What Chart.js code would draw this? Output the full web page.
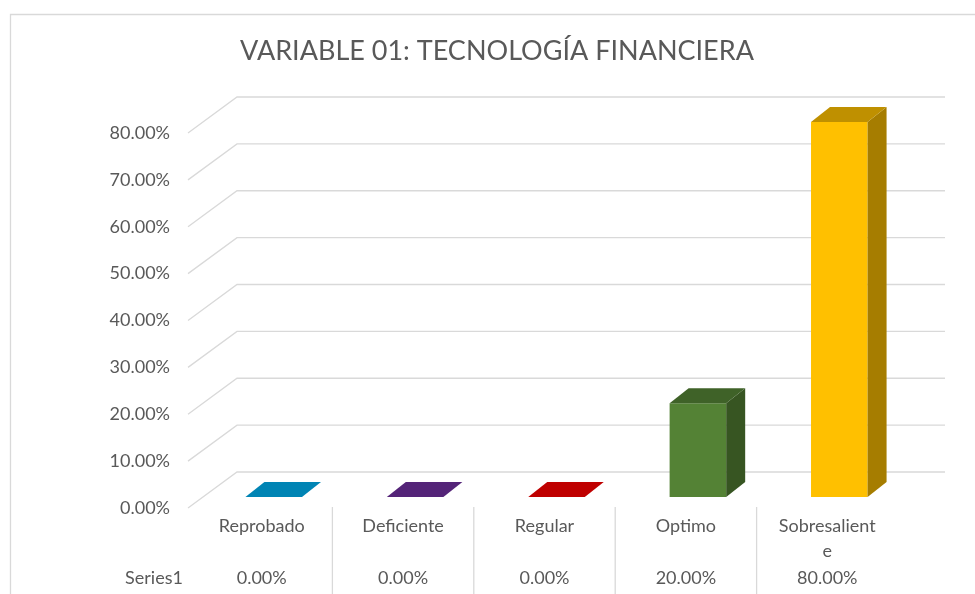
<!DOCTYPE html>
<html>
<head>
<meta charset="utf-8">
<script src="https://cdn.jsdelivr.net/npm/chart.js@4"></script>
<style>
  body { margin: 0; background: #fff; }
</style>
</head>
<body>
<canvas id="myChart" width="975" height="594"></canvas>
<script>
// chart data
const categories = ['Reprobado', 'Deficiente', 'Regular', 'Optimo', 'Sobresaliente'];
const seriesName = 'Series1';
const seriesValues = [0, 0, 0, 20, 80];
const chartTitle = 'VARIABLE 01: TECNOLOGÍA FINANCIERA';

// one colour per column, the sides are shaded from it
const barColors = ['#00B0F0', '#7030A0', '#FF0000', '#548235', '#FFC000'];

const FONT = 'Lato';
const TEXT = '#595959';
const GRID = '#d9d9d9';
const DX = 19, DY = 15;        // depth of the columns
const TABLE_SHIFT = -12;       // data table sits a bit left of the columns
const WRAP_WIDTH = 105;

function shade(hex, f) {
    const n = parseInt(hex.slice(1), 16);
    const r = Math.round(((n >> 16) & 255) * f);
    const g = Math.round(((n >> 8) & 255) * f);
    const b = Math.round((n & 255) * f);
    return `rgb(${r},${g},${b})`;
}

const pct = v => Number(v).toFixed(2) + '%';

// wrap a label by characters, like the excel data table does
const measureCtx = document.createElement('canvas').getContext('2d');
function wrapLabel(text) {
    measureCtx.font = `18px ${FONT}`;
    const lines = [];
    let line = '';
    for (const ch of text) {
        if (line && measureCtx.measureText(line + ch).width > WRAP_WIDTH) {
            lines.push(line);
            line = ch;
        } else {
            line += ch;
        }
    }
    lines.push(line);
    return lines;
}

const threeD = {
    id: 'threeD',
    beforeDraw(chart) {
        const { ctx } = chart;
        ctx.save();
        ctx.strokeStyle = GRID;
        ctx.lineWidth = 1.3;
        ctx.beginPath();
        ctx.moveTo(10.5, 700);
        ctx.lineTo(10.5, 14.5);
        ctx.lineTo(1200, 14.5);
        ctx.stroke();
        // title, centred on the whole chart box
        ctx.font = `27px ${FONT}`;
        ctx.fillStyle = TEXT;
        ctx.textAlign = 'center';
        ctx.textBaseline = 'middle';
        ctx.fillText(chartTitle, 497, 51);
        ctx.restore();
    },
    beforeDatasetsDraw(chart) {
        const { ctx, chartArea, scales: { y } } = chart;
        const wallLeft = chartArea.left + 34;
        const wallRight = chartArea.right + 35;
        ctx.save();
        ctx.strokeStyle = GRID;
        ctx.lineWidth = 1.3;
        y.ticks.forEach(t => {
            const py = y.getPixelForValue(t.value);
            ctx.beginPath();
            ctx.moveTo(chartArea.left - 15, py + 11);
            ctx.lineTo(wallLeft, py - 25);
            ctx.lineTo(wallRight, py - 25);
            ctx.stroke();
        });
        ctx.restore();
    },
    afterDatasetsDraw(chart) {
        const { ctx } = chart;
        const meta = chart.getDatasetMeta(0);
        ctx.save();
        meta.data.forEach((bar, i) => {
            const { x, y, base, width } = bar.getProps(['x', 'y', 'base', 'width'], true);
            const l = x - width / 2, r = x + width / 2;
            const c = barColors[i];
            if (base - y > 0.5) {
                ctx.fillStyle = shade(c, 0.65);
                ctx.beginPath();
                ctx.moveTo(r, y);
                ctx.lineTo(r + DX, y - DY);
                ctx.lineTo(r + DX, base - DY);
                ctx.lineTo(r, base);
                ctx.closePath();
                ctx.fill();
            }
            ctx.fillStyle = shade(c, 0.75);
            ctx.beginPath();
            ctx.moveTo(l, y);
            ctx.lineTo(l + DX, y - DY);
            ctx.lineTo(r + DX, y - DY);
            ctx.lineTo(r, y);
            ctx.closePath();
            ctx.fill();
        });
        ctx.restore();
    },
    afterDraw(chart) {
        const { ctx, scales: { x } } = chart;
        const rowY = 578;
        ctx.save();
        ctx.font = `18px ${FONT}`;
        ctx.fillStyle = TEXT;
        ctx.textAlign = 'center';
        ctx.textBaseline = 'middle';
        ctx.fillText(seriesName, 154, rowY);
        seriesValues.forEach((v, i) => {
            ctx.fillText(pct(v), x.getPixelForValue(i) + TABLE_SHIFT, rowY);
        });
        ctx.strokeStyle = GRID;
        ctx.lineWidth = 1.3;
        for (let i = 0; i < categories.length - 1; i++) {
            const sx = (x.getPixelForValue(i) + x.getPixelForValue(i + 1)) / 2 + TABLE_SHIFT;
            ctx.beginPath();
            ctx.moveTo(sx, 507);
            ctx.lineTo(sx, 600);
            ctx.stroke();
        }
        ctx.restore();
    }
};

const ctx = document.getElementById('myChart').getContext('2d');
const myChart = new Chart(ctx, {
    type: 'bar',
    data: {
        labels: categories,
        datasets: [{
            label: seriesName,
            data: seriesValues,
            backgroundColor: barColors,
            borderWidth: 0,
            barPercentage: 0.4,
            categoryPercentage: 1.0
        }]
    },
    options: {
        responsive: false,
        animation: false,
        layout: { padding: { left: 0, right: 65, top: 122, bottom: 0 } },
        plugins: {
            legend: { display: false },
            tooltip: { enabled: false },
            title: { display: false }
        },
        scales: {
            x: {
                grid: { display: false, drawTicks: false },
                border: { display: false },
                ticks: {
                    color: TEXT,
                    font: { family: FONT, size: 18, lineHeight: 1.39 },
                    padding: 17,
                    labelOffset: TABLE_SHIFT,
                    autoSkip: false,
                    maxRotation: 0,
                    callback: (v, i) => wrapLabel(categories[i])
                },
                afterFit: scale => { scale.height = 97; }
            },
            y: {
                min: 0,
                max: 80,
                grid: { display: false, drawTicks: false },
                border: { display: false },
                ticks: {
                    stepSize: 10,
                    color: TEXT,
                    font: { family: FONT, size: 18 },
                    padding: 33,
                    labelOffset: 11,
                    callback: v => pct(v)
                },
                afterFit: scale => { scale.width = 203; }
            }
        }
    },
    plugins: [threeD]
});
</script>
</body>
</html>
